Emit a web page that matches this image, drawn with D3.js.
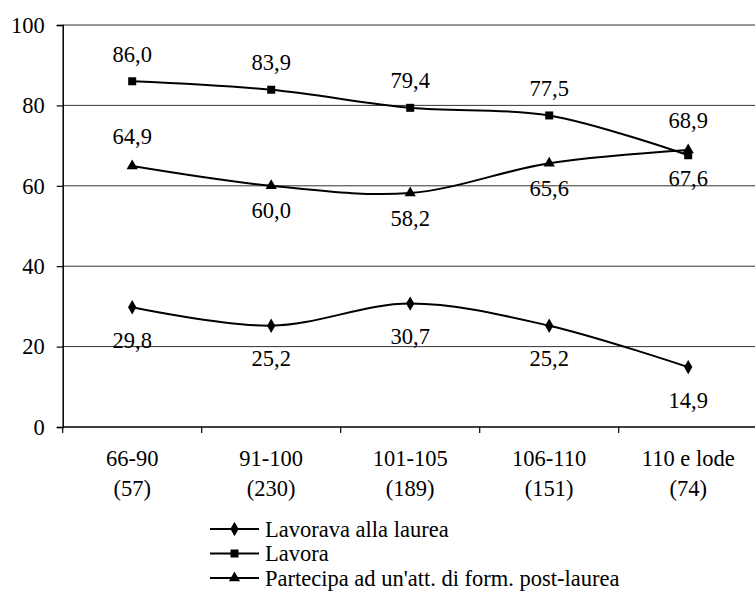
<!DOCTYPE html>
<html><head><meta charset="utf-8">
<script src="https://cdn.jsdelivr.net/npm/d3@7"></script>
<style>
html,body{margin:0;padding:0;background:#fff;}
</style></head>
<body><svg id="c" width="755" height="592"></svg>
<script>
const categories = ["66-90","91-100","101-105","106-110","110 e lode"];
const counts = ["(57)","(230)","(189)","(151)","(74)"];
const seriesNames = ["Lavorava alla laurea","Lavora","Partecipa ad un'att. di form. post-laurea"];
const lavorava = [29.8,25.2,30.7,25.2,14.9];
const lavora = [86.0,83.9,79.4,77.5,67.6];
const partecipa = [64.9,60.0,58.2,65.6,68.9];
const labelPosLavorava = ["below","below","below","below","below"];
const labelPosLavora = ["above","above","above","above","below"];
const labelPosPartecipa = ["above","below","below","below","above"];
const yTicks = [0,20,40,60,80,100];

const FONT = "Liberation Serif";
const FS = "22.5px";
const svg = d3.select("#c");
const x = d3.scaleBand().domain(categories).range([62.7,757.7]);
const y = d3.scaleLinear().domain([0,100]).range([427,25]);
const fmt = v => v.toFixed(1).replace(".", ",");
const txt = sel => sel.style("font-family",FONT).style("font-size",FS).attr("fill","#000");

// gridlines
svg.append("g").selectAll("line").data(yTicks.filter(t=>t>0)).join("line")
  .attr("x1",62.7).attr("x2",757.7).attr("y1",d=>y(d)).attr("y2",d=>y(d))
  .attr("stroke","#333").attr("stroke-width",1);

// y axis
const yAxis = d3.axisLeft(y).tickValues(yTicks).tickSize(6).tickPadding(12).tickFormat(d3.format("d"));
const gy = svg.append("g").attr("transform","translate(62.7,0)").call(yAxis);
gy.select(".domain").attr("stroke","#000").attr("stroke-width",1.5);
gy.selectAll(".tick line").attr("stroke","#000").attr("stroke-width",1.2);
txt(gy.selectAll("text"));

// x axis
svg.append("line").attr("x1",62.7).attr("x2",757.7).attr("y1",y(0)).attr("y2",y(0))
  .attr("stroke","#000").attr("stroke-width",1.5);
svg.append("g").selectAll("line").data(categories).join("line")
  .attr("x1",d=>x(d)).attr("x2",d=>x(d)).attr("y1",y(0)).attr("y2",y(0)+6)
  .attr("stroke","#000").attr("stroke-width",1.2);
const xl = svg.append("g");
txt(xl.selectAll("text.c1").data(categories).join("text").attr("class","c1")
  .attr("x",d=>x(d)+x.bandwidth()/2).attr("y",458).attr("text-anchor","middle").attr("dominant-baseline","central").text(d=>d));
txt(xl.selectAll("text.c2").data(categories.map((c,i)=>({c,t:counts[i]}))).join("text").attr("class","c2")
  .attr("x",d=>x(d.c)+x.bandwidth()/2).attr("y",488.5).attr("text-anchor","middle").attr("dominant-baseline","central").text(d=>d.t));

const cx = c => x(c)+x.bandwidth()/2;
const series = [
  {name:seriesNames[0], values:lavorava, pos:labelPosLavorava, sym:d3.symbolDiamond, size:60, below:33, above:27},
  {name:seriesNames[1], values:lavora, pos:labelPosLavora, sym:d3.symbolSquare, size:64, below:23, above:27},
  {name:seriesNames[2], values:partecipa, pos:labelPosPartecipa, sym:d3.symbolTriangle, size:55, below:25, above:30}
];
const line = d3.line().x((d,i)=>cx(categories[i])).y(d=>y(d)).curve(d3.curveCatmullRom.alpha(0.5));

series.forEach(s=>{
  svg.append("path").datum(s.values).attr("d",line).attr("fill","none").attr("stroke","#000").attr("stroke-width",2);
  svg.append("g").selectAll("path").data(s.values).join("path")
    .attr("d",d3.symbol().type(s.sym).size(s.size))
    .attr("transform",(d,i)=>`translate(${cx(categories[i])},${y(d)})`).attr("fill","#000");
  txt(svg.append("g").selectAll("text").data(s.values).join("text")
    .attr("x",(d,i)=>cx(categories[i]))
    .attr("y",(d,i)=> s.pos[i]==="above" ? y(d)-s.above : y(d)+s.below)
    .attr("text-anchor","middle").attr("dominant-baseline","central").text(d=>fmt(d)));
});

// legend
const lg = svg.append("g");
series.forEach((s,i)=>{
  const yy = 529 + i*24.5;
  lg.append("line").attr("x1",210).attr("x2",259).attr("y1",yy).attr("y2",yy).attr("stroke","#000").attr("stroke-width",2);
  lg.append("path").attr("d",d3.symbol().type(s.sym).size(s.size)).attr("transform",`translate(234.5,${yy})`).attr("fill","#000");
  txt(lg.append("text").attr("x",265).attr("y",yy).attr("dominant-baseline","central").text(s.name));
});
</script></body></html>
